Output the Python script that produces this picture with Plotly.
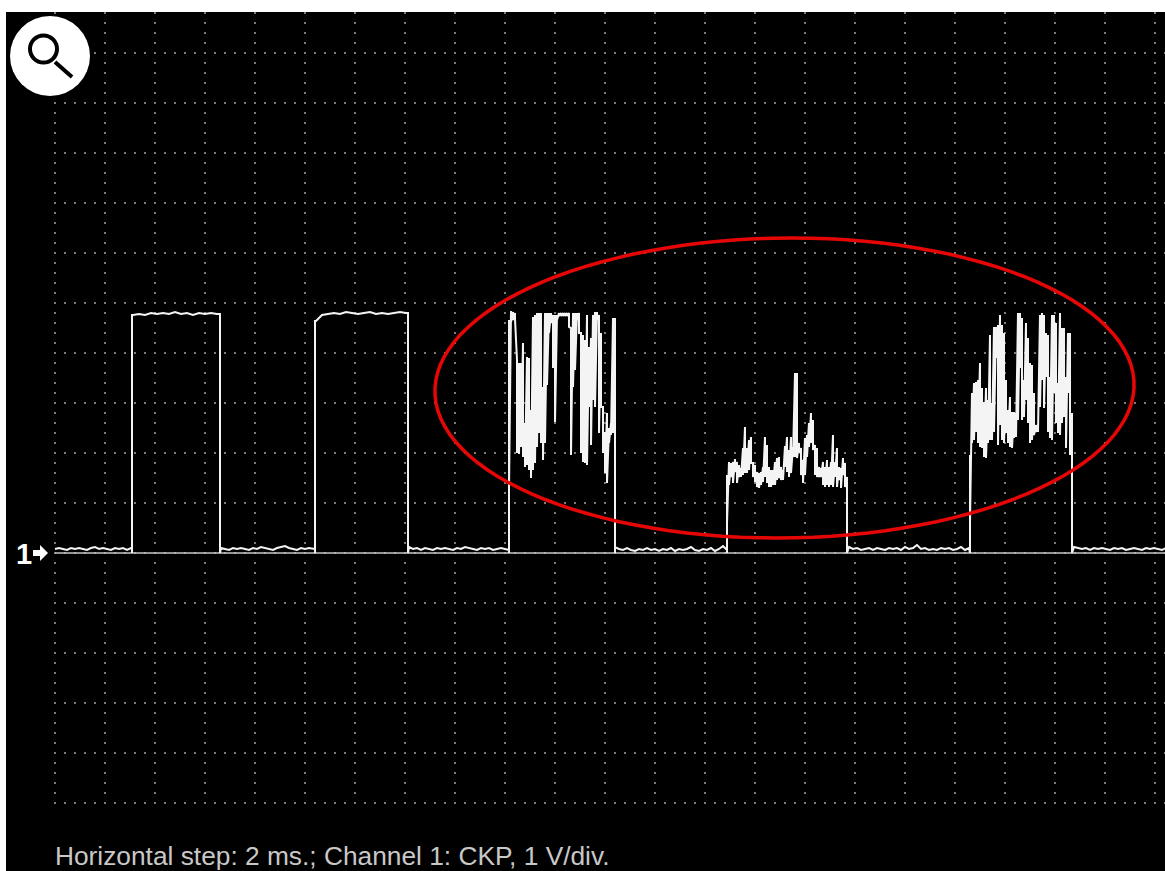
import numpy as np
import plotly.graph_objects as go

# Values are in scope counts: 1 x count = 0.04 ms, 1 y count = 20 mV (2 ms/div = 50 counts, 1 V/div = 50 counts)
base0 = [4,5,4,3,5,4,5,4,3,5,6,4,5,4,3,5,4,5,3,5]
top1 = [238,239,238,240,239,240,239,241,239,240,238,240,239,240,239]
base1 = [5,4,3,5,4,5,4,3,5,4,6,5,4,3,5,6,7,5,4,3,5,4,5,4]
top2 = [232,238,239,240,239,241,240,239,240,241,239,240,239,240,241,240]
base2 = [6,4,5,3,5,4,3,5,4,5,4,3,5,4,6,5,4,3,5,4,5,3,4,5,4,3]
base3 = [6,4,3,5,3,2,4,3,5,3,4,2,4,3,5,2,4,3,4,6,3,2,4,3,5,2,4,7,3]
base4 = [6,4,5,3,4,5,3,5,4,3,5,4,5,3,6,4,5,8,4,5,3,4,3,5,4,5,3,4,6,3,5]
base5 = [6,5,4,5,3,5,4,5,4,3,5,4,5,3,4,5,4,3,5,4,5,4,3,5]

burst1_hi = [233,242,241,240,193,190,190,210,130,196,195,143,236,238,240,240,240,166,240,240,240,240,238,238,238,240,240,240,240,240,240,225,240,240,240,240,220,218,213,238,206,215,238,241,241,238,220,146,121,140,125,130,235,235]
burst1_lo = [63,231,233,234,100,99,106,96,86,88,83,75,83,90,106,120,110,93,110,168,220,230,185,131,233,237,237,237,237,237,226,98,166,183,233,220,100,91,90,88,146,108,153,146,233,120,146,100,80,70,110,118,120,70]

burst2_hi = [78,91,90,91,94,91,88,85,105,126,105,113,116,90,88,81,80,81,86,116,108,86,83,83,91,95,96,86,83,107,116,103,116,106,180,180,110,105,93,115,118,130,140,133,108,105,86,85,91,86,93,86,91,118,91,105,86,85,95,90,76]
burst2_lo = [30,68,76,70,81,70,76,76,78,80,80,83,90,76,71,66,65,68,71,76,70,66,66,68,68,73,75,73,73,86,81,76,80,96,96,95,100,78,70,78,96,106,110,103,78,76,76,76,68,66,68,66,68,66,76,66,73,65,78,66,30]

burst3_hi = [98,160,170,171,173,190,165,151,165,153,218,150,226,226,228,238,228,220,173,143,156,141,141,140,240,240,235,173,230,215,190,188,160,128,128,238,240,238,220,218,176,238,238,230,170,240,225,225,176,220,220,140]
burst3_lo = [30,110,113,121,110,106,105,96,95,110,113,113,121,195,108,128,113,110,120,110,106,105,115,116,133,185,133,136,153,130,110,113,118,121,121,146,173,145,176,121,115,113,160,130,120,118,130,136,105,160,98,86]

segments = [
    ("flat", 0, 4, base0), ("flat", 78, 6, top1), ("flat", 166, 4, base1),
    ("flat", 261, 6, top2), ("flat", 354, 4, base2), ("burst", 454, 2, burst1_hi, burst1_lo),
    ("flat", 560, 4, base3), ("burst", 672, 2, burst2_hi, burst2_lo),
    ("flat", 794, 4, base4), ("burst", 915, 2, burst3_hi, burst3_lo),
    ("flat", 1019, 4, base5),
]

sig_x, sig_y = [], []
for seg in segments:
    if seg[0] == "flat":
        _, start, step, vals = seg
        new_x = [start + i * step for i in range(len(vals))]
        if sig_y and abs(sig_y[-1] - vals[0]) > 20:   # vertical edge reaches down to the zero line
            sig_x += [start - 1, start - 1]
            sig_y += [0 if vals[0] > 20 else sig_y[-1], 0]
            if vals[0] > 20:
                sig_x = sig_x[:-2] + [start - 1, start - 1, start - 1]
                sig_y = sig_y[:-2] + [sig_y[-3], 0, vals[0]]
        sig_x += new_x
        sig_y += vals
    else:
        _, start, step, hi, lo = seg
        sig_x += [start, start]
        sig_y += [0, hi[0]]
        for i, (h, l) in enumerate(zip(hi, lo)):
            x = start + i * step
            sig_x += [x, x]
            sig_y += [h, l]
        end = start + (len(hi) - 1) * step
        sig_x += [end, end]
        sig_y += [hi[-1], 0]

XR = [-49, 1110]
YR = [-318, 541]

# Dotted graticule
vx, vy = [], []
for gx in range(0, 1110, 50):
    for gy in range(-250, 541, 10):
        vx.append(gx); vy.append(gy)
hx, hy = [], []
for gy in range(-250, 501, 50):
    for gx in range(0, 1111, 10):
        hx.append(gx); hy.append(gy)

fig = go.Figure()
fig.add_trace(go.Scatter(x=vx + hx, y=vy + hy, mode="markers",
                         marker=dict(symbol="square", size=2, color="#7c7c7c", line=dict(width=0)),
                         hoverinfo="skip", showlegend=False))
fig.add_trace(go.Scatter(x=[0, 1110], y=[0, 0], mode="lines",
                         line=dict(color="#c4c4c4", width=1.5), hoverinfo="skip", showlegend=False))
fig.add_trace(go.Scatter(x=sig_x, y=sig_y, mode="lines",
                         line=dict(color="#f4f4f4", width=2), hoverinfo="skip", showlegend=False))

# Hand-drawn, slightly sheared red ellipse
t = np.linspace(0, 2 * np.pi, 121)
ex = 729.5 + 349.5 * np.cos(t) + 7.5 * np.sin(t)
ey = 165 + 150 * np.sin(t)
ellipse_path = "M " + " L ".join(f"{a:.1f},{b:.1f}" for a, b in zip(ex, ey)) + " Z"

shapes = [
    dict(type="path", path=ellipse_path, line=dict(color="#e60606", width=3.5)),
    dict(type="circle", x0=-45, x1=35, y0=457, y1=537, fillcolor="#ffffff", line=dict(width=0)),
    dict(type="circle", x0=-25, x1=2, y0=490.5, y1=517.5, fillcolor="#ffffff", line=dict(color="#000000", width=4)),
    dict(type="line", x0=0, x1=17, y0=491, y1=476, line=dict(color="#000000", width=4)),
    dict(type="path", path="M -22,3 L -15,3 L -15,8 L -7,0 L -15,-8 L -15,-3 L -22,-3 Z",
         fillcolor="#ffffff", line=dict(width=0)),
]
annotations = [
    dict(x=-31.5, y=-1, text="<b>1</b>", showarrow=False, font=dict(family="Liberation Sans", size=29, color="#ffffff")),
    dict(x=0, y=-303, text="Horizontal step: 2 ms.; Channel 1: CKP, 1 V/div.", xanchor="left", xshift=-2, showarrow=False,
         font=dict(family="Liberation Sans", size=26.3, color="#c8c8c8")),
]
fig.update_layout(
    width=1165, height=871,
    margin=dict(l=6, r=0, t=12, b=0),
    paper_bgcolor="#ffffff", plot_bgcolor="#000000",
    xaxis=dict(range=XR, visible=False, fixedrange=True),
    yaxis=dict(range=YR, visible=False, fixedrange=True),
    shapes=shapes, annotations=annotations, showlegend=False,
)
fig.write_html("out.html", config=dict(displayModeBar=False),
               post_script="document.body.style.margin='0';window.dispatchEvent(new Event('resize'));")
